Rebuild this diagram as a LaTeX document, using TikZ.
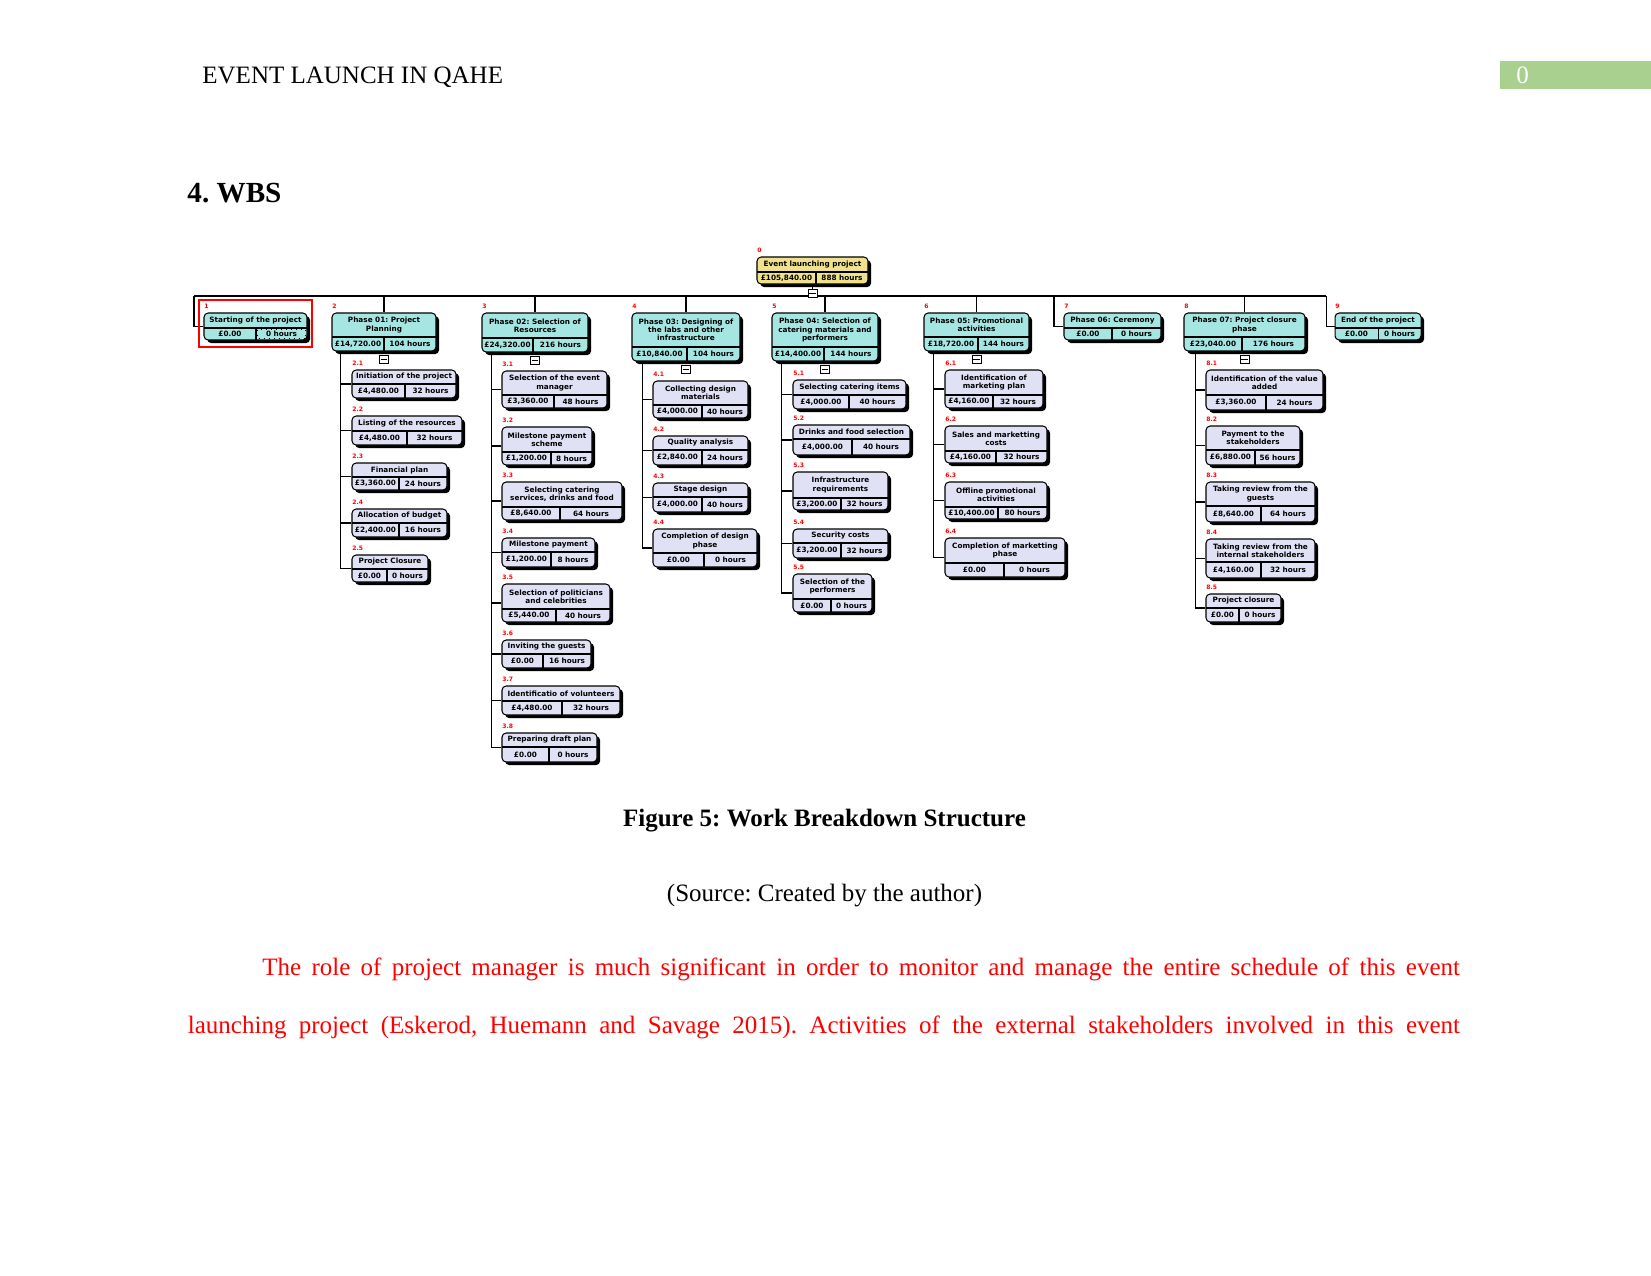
\documentclass[tikz,border=0pt]{standalone}
\usepackage{fontspec}
\setmainfont{Liberation Serif}
\newfontfamily\wbsfamily{DejaVu Sans}
\usetikzlibrary{calc,fit,shadows}
\frenchspacing
\definecolor{rootfill}{RGB}{240,226,140}
\definecolor{phfill}{RGB}{166,230,226}
\definecolor{chfill}{RGB}{225,225,245}
\definecolor{pagegreen}{RGB}{169,208,142}
\newcommand\wbsf{\wbsfamily\bfseries\fontsize{3.5}{3.9}\selectfont}
\newcommand\wbsl{\wbsfamily\bfseries\fontsize{2.9}{3.1}\selectfont}
\tikzset{
  wbsbox/.style={draw, line width=0.5pt, rounded corners=2pt, inner sep=0pt,
    drop shadow={shadow xshift=1.5pt, shadow yshift=-1.5pt, opacity=1, fill=black}},
  wbsline/.style={line width=0.5pt},
  wbstitle/.style={font=\wbsf, align=center, inner sep=0pt},
  wbstext/.style={font=\wbsf, inner sep=0pt},
  wbslabel/.style={font=\wbsl, text=red, anchor=west, inner sep=0pt},
  conn/.style={line width=0.5pt},
  colbox/.style={draw, fill=white, line width=0.4pt, minimum width=4.3pt, minimum height=3.8pt, inner sep=0pt},
  pagetext/.style={inner sep=0pt, font=\fontsize{12}{14}\selectfont},
}
% #1 fill, #2 name, #3 x1,y1, #4 x2,y2, #5 xs,yd, #6 title, #7 cost, #8 hours, #9 label
\newcommand\wbox[9]{%
  \coordinate (#2-nw) at (#3);
  \coordinate (#2-se) at (#4);
  \coordinate (#2-d) at (#5);
  \node[wbsbox, fill=#1, fit=(#2-nw)(#2-se)] (#2) {};
  \draw[wbsline] (#2-nw |- #2-d) -- (#2-se |- #2-d);
  \draw[wbsline] (#2-d) -- (#2-d |- #2-se);
  \node[wbstitle] (#2-t) at ($(#2-nw)!0.5!(#2-se |- #2-d)$) {#6};
  \node[wbstext] (#2-c) at ($(#2-nw |- #2-d)!0.5!(#2-d |- #2-se)$) {#7};
  \node[wbstext] (#2-h) at ($(#2-d)!0.5!(#2-se)$) {#8};
  \node[wbslabel] (#2-l) at ($(#2-nw)+(0,-6.5)$) {#9};
}
% #1 name, #2 parent, #3 offset below parent
\newcommand\colbx[3]{%
  \node[colbox] (#1) at ($(#2.south)+(0,#3)$) {};
  \draw[line width=0.5pt] ([xshift=0.8pt]#1.west) -- ([xshift=-0.8pt]#1.east);
}
\begin{document}
\begin{tikzpicture}[x=0.48pt,y=-0.48pt]
\fill[white] (0,0) rectangle (1651,1275);
\useasboundingbox (0,0) rectangle (1651,1275);

% ---------- page text ----------
\node[pagetext, anchor=base west] (hdr) at (202,83) {EVENT LAUNCH IN QAHE};
\node[fill=pagegreen, inner sep=0pt, minimum width=72.5pt, minimum height=13pt, anchor=north west] (pgbox) at (1500,61) {};
\node[pagetext, anchor=base west, text=white] (pgno) at (1516,83) {0};
\node[inner sep=0pt, anchor=base west, font=\bfseries\fontsize{14}{16}\selectfont] (sec) at (187,202) {4. WBS};
\node[pagetext, anchor=base, font=\bfseries\fontsize{12}{14}\selectfont] (cap) at (824.5,826) {Figure 5: Work Breakdown Structure};
\node[pagetext, anchor=base] (src) at (824.5,901) {(Source: Created by the author)};
\node[pagetext, anchor=base west, text=red] (par1) at (262,975) {\makebox[574.8pt][s]{The role of project manager is much significant in order to monitor and manage the entire schedule of this event}};
\node[pagetext, anchor=base west, text=red] (par2) at (187.5,1033) {\makebox[610.6pt][s]{launching project (Eskerod, Huemann and Savage 2015). Activities of the external stakeholders involved in this event}};

% ---------- WBS connectors (top level) ----------
\coordinate (barW) at (194,296);
\coordinate (barE) at (1326,296);
\coordinate (b7) at (1054,296);

% ---------- root ----------
\wbox{rootfill}{root}{757,257}{868,284}{816,272}{Event launching project}{£105,840.00}{888 hours}{0}

% ---------- phases ----------
\wbox{phfill}{p1}{204,313}{307,340}{256,328}{Starting of the project}{£0.00}{0 hours}{1}
\wbox{phfill}{p2}{332,313}{436,351}{384,337}{Phase 01: Project\\Planning}{£14,720.00}{104 hours}{2}
\wbox{phfill}{p3}{482,313}{588,352}{533,338}{Phase 02: Selection of\\Resources}{£24,320.00}{216 hours}{3}
\wbox{phfill}{p4}{632,313}{740,361}{687,347}{Phase 03: Designing of\\the labs and other\\infrastructure}{£10,840.00}{104 hours}{4}
\wbox{phfill}{p5}{772,313}{878,361}{824,347}{Phase 04: Selection of\\catering materials and\\performers}{£14,400.00}{144 hours}{5}
\wbox{phfill}{p6}{924,313}{1029,351}{978,337}{Phase 05: Promotional\\activities}{£18,720.00}{144 hours}{6}
\wbox{phfill}{p7}{1064,313}{1161,340}{1112,328}{Phase 06: Ceremony}{£0.00}{0 hours}{7}
\wbox{phfill}{p8}{1184,313}{1305,351}{1242,337}{Phase 07: Project closure\\phase}{£23,040.00}{176 hours}{8}
\wbox{phfill}{p9}{1335,313}{1421,340}{1378,328}{End of the project}{£0.00}{0 hours}{9}

\draw[conn] (barW) -- (barE);
\draw[conn] (root.south) -- (root.south |- barW);
\draw[conn] (barW) |- (p1.west);
\foreach \p in {p2,p3,p4,p5,p6,p8} { \draw[conn] (\p.north |- barW) -- (\p.north); }
\draw[conn] (b7) |- (p7.west);
\draw[conn] (barE) |- (p9.west);

\colbx{rootx}{root}{9}
\colbx{p2x}{p2}{8}
\colbx{p3x}{p3}{7.5}
\colbx{p4x}{p4}{7.5}
\colbx{p5x}{p5}{7.5}
\colbx{p6x}{p6}{8}
\colbx{p8x}{p8}{8}

% selection marks on the first phase
\draw[dotted, line width=0.4pt] ($(p1-d)+(1.5,1.5)$) rectangle ($(p1-se)+(-1.5,-1.5)$);
\coordinate (selA) at (199,300);
\coordinate (selB) at (312,347);
\node[draw=red, line width=0.6pt, inner sep=0pt, fit=(selA)(selB)] (sel) {};

% ---------- children of phase 01 ----------
\wbox{chfill}{c21}{352,370}{456,398}{405,384}{Initiation of the project}{£4,480.00}{32 hours}{2.1}
\wbox{chfill}{c22}{352,416}{462,445}{407,431}{Listing of the resources}{£4,480.00}{32 hours}{2.2}
\wbox{chfill}{c23}{352,463}{447,490}{399,477}{Financial plan}{£3,360.00}{24 hours}{2.3}
\wbox{chfill}{c24}{352,509}{447,537}{399,523}{Allocation of budget}{£2,400.00}{16 hours}{2.4}
\wbox{chfill}{c25}{352,555}{428,582}{387,569}{Project Closure}{£0.00}{0 hours}{2.5}
\coordinate (s2) at ($(p2.south west)+(9,0)$);
\foreach \c in {c21,c22,c23,c24,c25} { \draw[conn] (s2) |- (\c.west); }

% ---------- children of phase 02 ----------
\wbox{chfill}{c31}{502,371}{607,408}{554,395}{Selection of the event\\manager}{£3,360.00}{48 hours}{3.1}
\wbox{chfill}{c32}{502,427}{592,465}{551,452}{Milestone payment\\scheme}{£1,200.00}{8 hours}{3.2}
\wbox{chfill}{c33}{502,482}{622,520}{560,507}{Selecting catering\\services, drinks and food}{£8,640.00}{64 hours}{3.3}
\wbox{chfill}{c34}{502,538}{595,567}{551,552}{Milestone payment}{£1,200.00}{8 hours}{3.4}
\wbox{chfill}{c35}{502,584}{610,622}{556,609}{Selection of politicians\\and celebrities}{£5,440.00}{40 hours}{3.5}
\wbox{chfill}{c36}{502,640}{591,668}{543,654}{Inviting the guests}{£0.00}{16 hours}{3.6}
\wbox{chfill}{c37}{502,686}{620,715}{562,701}{Identificatio of volunteers}{£4,480.00}{32 hours}{3.7}
\wbox{chfill}{c38}{502,733}{597,762}{549,747}{Preparing draft plan}{£0.00}{0 hours}{3.8}
\coordinate (s3) at ($(p3.south west)+(10,0)$);
\foreach \c in {c31,c32,c33,c34,c35,c36,c37,c38} { \draw[conn] (s3) |- (\c.west); }

% ---------- children of phase 03 ----------
\wbox{chfill}{c41}{653,381}{748,418}{702,405}{Collecting design\\materials}{£4,000.00}{40 hours}{4.1}
\wbox{chfill}{c42}{653,436}{748,465}{702,450}{Quality analysis}{£2,840.00}{24 hours}{4.2}
\wbox{chfill}{c43}{653,483}{748,512}{702,497}{Stage design}{£4,000.00}{40 hours}{4.3}
\wbox{chfill}{c44}{653,529}{757,567}{704,553}{Completion of design\\phase}{£0.00}{0 hours}{4.4}
\coordinate (s4) at ($(p4.south west)+(11,0)$);
\foreach \c in {c41,c42,c43,c44} { \draw[conn] (s4) |- (\c.west); }

% ---------- children of phase 04 ----------
\wbox{chfill}{c51}{793,380}{906,409}{849,395}{Selecting catering items}{£4,000.00}{40 hours}{5.1}
\wbox{chfill}{c52}{793,425}{910,455}{852,439}{Drinks and food selection}{£4,000.00}{40 hours}{5.2}
\wbox{chfill}{c53}{793,472}{888,510}{841,498}{Infrastructure\\requirements}{£3,200.00}{32 hours}{5.3}
\wbox{chfill}{c54}{793,529}{888,558}{841,543}{Security costs}{£3,200.00}{32 hours}{5.4}
\wbox{chfill}{c55}{793,574}{872,612}{831,599}{Selection of the\\performers}{£0.00}{0 hours}{5.5}
\coordinate (s5) at ($(p5.south west)+(10,0)$);
\foreach \c in {c51,c52,c53,c54,c55} { \draw[conn] (s5) |- (\c.west); }

% ---------- children of phase 05 ----------
\wbox{chfill}{c61}{945,370}{1043,408}{993,395}{Identification of\\marketing plan}{£4,160.00}{32 hours}{6.1}
\wbox{chfill}{c62}{945,426}{1047,463}{996,451}{Sales and marketting\\costs}{£4,160.00}{32 hours}{6.2}
\wbox{chfill}{c63}{945,482}{1047,519}{998,507}{Offline promotional\\activities}{£10,400.00}{80 hours}{6.3}
\wbox{chfill}{c64}{945,538}{1065,577}{1004,563}{Completion of marketting\\phase}{£0.00}{0 hours}{6.4}
\coordinate (s6) at ($(p6.south west)+(10,0)$);
\foreach \c in {c61,c62,c63,c64} { \draw[conn] (s6) |- (\c.west); }

% ---------- children of phase 07 ----------
\wbox{chfill}{c81}{1206,370}{1323,410}{1266,395}{Identification of the value\\added}{£3,360.00}{24 hours}{8.1}
\wbox{chfill}{c82}{1206,426}{1300,465}{1255,450}{Payment to the\\stakeholders}{£6,880.00}{56 hours}{8.2}
\wbox{chfill}{c83}{1206,482}{1315,522}{1261,506}{Taking review from the\\guests}{£8,640.00}{64 hours}{8.3}
\wbox{chfill}{c84}{1206,539}{1315,578}{1261,562}{Taking review from the\\internal stakeholders}{£4,160.00}{32 hours}{8.4}
\wbox{chfill}{c85}{1206,594}{1281,622}{1239,608}{Project closure}{£0.00}{0 hours}{8.5}
\coordinate (s8) at ($(p8.south west)+(12,0)$);
\foreach \c in {c81,c82,c83,c84,c85} { \draw[conn] (s8) |- (\c.west); }

\end{tikzpicture}
\end{document}
